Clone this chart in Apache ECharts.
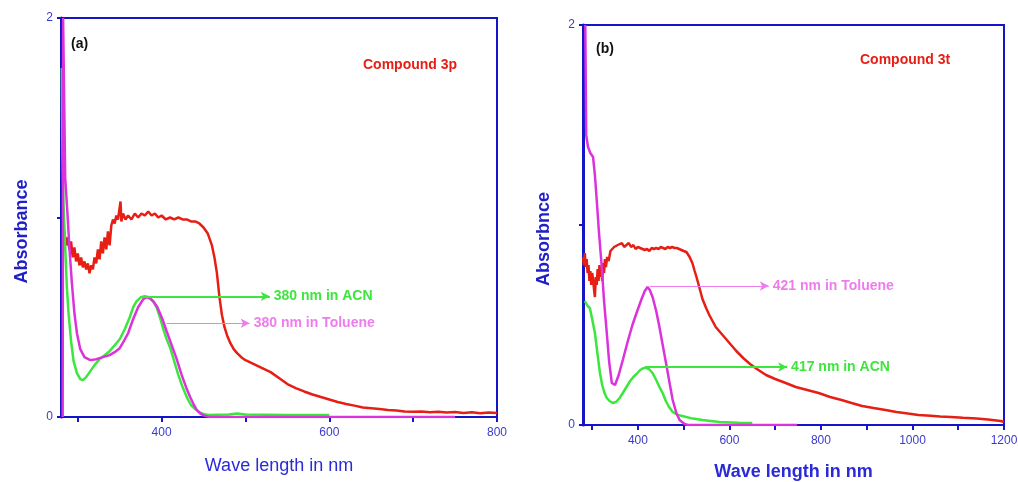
<!DOCTYPE html>
<html><head><meta charset="utf-8">
<script src="https://cdn.jsdelivr.net/npm/echarts@6/dist/echarts.min.js"></script>
<style>html,body{margin:0;padding:0;background:#fff}#c{width:1018px;height:482px}</style>
</head><body><div id="c"></div>
<script>
// ---- Panel (a): Compound 3p ----
const redA = [[282,0.90],[284,0.93],[286,0.86],[288,0.90],[290,0.84],[292,0.88],[294,0.80],[296,0.85],[298,0.78],[300,0.82],[302,0.76],[304,0.80],[306,0.75],[308,0.78],[310,0.74],[312,0.77],[314,0.72],[316,0.76],[318,0.74],[320,0.80],[322,0.77],[324,0.84],[326,0.79],[328,0.88],[330,0.82],[332,0.90],[334,0.84],[336,0.93],[338,0.86],[340,0.96],[342,0.99],[344,0.97],[346,1.01],[348,0.99],[350,1.05],[351,1.08],[352,0.98],[354,1.02],[357,0.99],[360,1.01],[364,0.99],[368,1.02],[372,1.00],[376,1.02],[380,1.01],[384,1.03],[388,1.01],[392,1.02],[396,1.00],[400,1.01],[405,0.99],[410,1.00],[415,0.99],[420,1.00],[425,0.99],[430,0.99],[435,0.98],[440,0.98],[445,0.97],[450,0.95],[455,0.92],[460,0.86],[463,0.80],[466,0.72],[469,0.60],[472,0.51],[475,0.45],[478,0.41],[482,0.37],[486,0.34],[490,0.32],[495,0.30],[500,0.285],[510,0.265],[520,0.245],[530,0.225],[540,0.195],[550,0.165],[560,0.145],[570,0.128],[580,0.113],[590,0.10],[600,0.088],[610,0.075],[620,0.065],[630,0.057],[640,0.048],[650,0.044],[660,0.040],[670,0.035],[680,0.032],[690,0.028],[700,0.026],[710,0.027],[720,0.024],[730,0.026],[740,0.022],[750,0.025],[760,0.020],[770,0.024],[780,0.019],[790,0.022],[800,0.020]];
const greenA = [[281,1.75],[281.5,1.40],[283,1.07],[285,0.85],[287,0.65],[289,0.52],[292,0.38],[295,0.28],[299,0.22],[303,0.19],[306,0.185],[310,0.20],[315,0.23],[320,0.26],[326,0.29],[332,0.31],[338,0.33],[344,0.36],[350,0.39],[356,0.44],[362,0.50],[366,0.55],[370,0.58],[375,0.60],[380,0.605],[385,0.60],[390,0.58],[394,0.55],[398,0.50],[402,0.44],[406,0.39],[410,0.35],[415,0.28],[420,0.21],[425,0.15],[430,0.10],[435,0.06],[440,0.04],[445,0.025],[450,0.015],[455,0.010],[480,0.012],[490,0.018],[500,0.012],[550,0.010],[600,0.010]];
const magentaA = [[282,0.0],[282.5,2.0],[283.5,2.0],[285,1.2],[288,1.0],[290,0.85],[293,0.67],[296,0.52],[299,0.42],[303,0.34],[308,0.30],[315,0.285],[322,0.29],[330,0.30],[338,0.31],[344,0.325],[350,0.345],[355,0.38],[360,0.42],[366,0.49],[372,0.55],[378,0.59],[382,0.60],[386,0.595],[390,0.58],[395,0.55],[401,0.49],[406,0.43],[412,0.36],[418,0.29],[424,0.21],[430,0.14],[434,0.10],[438,0.065],[442,0.035],[446,0.018],[450,0.008],[457,0.0],[750,0.0]];

// ---- Panel (b): Compound 3t ----
const redB = [[280,0.84],[282,0.80],[284,0.86],[286,0.79],[288,0.83],[290,0.76],[292,0.80],[294,0.72],[296,0.77],[298,0.70],[300,0.76],[302,0.73],[304,0.68],[306,0.64],[308,0.74],[310,0.70],[312,0.78],[314,0.72],[316,0.80],[318,0.74],[320,0.79],[322,0.72],[324,0.81],[326,0.76],[328,0.83],[330,0.79],[333,0.84],[336,0.82],[340,0.87],[344,0.86],[348,0.89],[352,0.88],[356,0.90],[360,0.89],[365,0.91],[370,0.89],[375,0.90],[380,0.91],[385,0.89],[390,0.90],[395,0.88],[400,0.89],[405,0.885],[410,0.88],[415,0.875],[420,0.88],[425,0.87],[430,0.885],[435,0.88],[440,0.885],[445,0.88],[450,0.89],[455,0.885],[460,0.88],[465,0.89],[470,0.885],[475,0.89],[480,0.885],[485,0.885],[490,0.88],[495,0.875],[500,0.87],[506,0.865],[513,0.84],[519,0.81],[524,0.77],[528,0.74],[534,0.69],[541,0.63],[550,0.58],[556,0.55],[570,0.49],[585,0.45],[600,0.41],[615,0.37],[630,0.335],[645,0.305],[660,0.28],[680,0.25],[700,0.23],[723,0.21],[745,0.19],[770,0.175],[795,0.16],[820,0.14],[845,0.125],[867,0.11],[890,0.095],[915,0.085],[941,0.075],[965,0.065],[990,0.057],[1013,0.05],[1040,0.046],[1060,0.043],[1084,0.04],[1110,0.036],[1140,0.032],[1165,0.028],[1193,0.02],[1200,0.015]];
const greenB = [[284,0.62],[290,0.595],[295,0.585],[300,0.53],[306,0.46],[312,0.35],[317,0.26],[322,0.20],[327,0.16],[332,0.135],[338,0.12],[345,0.11],[352,0.115],[360,0.135],[367,0.16],[375,0.19],[383,0.22],[390,0.24],[397,0.255],[405,0.275],[411,0.283],[417,0.287],[424,0.28],[432,0.26],[440,0.225],[447,0.19],[454,0.16],[461,0.12],[468,0.09],[476,0.065],[486,0.052],[497,0.045],[520,0.032],[541,0.025],[578,0.015],[620,0.011],[650,0.01]];
const magentaB = [[285,2.0],[287,1.45],[291,1.39],[296,1.36],[302,1.34],[306,1.25],[310,1.125],[315,0.96],[321,0.79],[326,0.62],[332,0.46],[337,0.32],[343,0.21],[350,0.20],[358,0.25],[367,0.325],[378,0.42],[388,0.50],[397,0.56],[408,0.63],[415,0.67],[421,0.69],[426,0.675],[432,0.64],[440,0.57],[447,0.49],[455,0.39],[463,0.29],[470,0.20],[476,0.125],[484,0.06],[491,0.025],[502,0.005],[510,0.0],[748,0.0]];

// tick values
const xTicksA = [300,400,500,600,700,800];
const xLabelsA = [400,600,800];
const xTicksB = [300,400,500,600,700,800,900,1000,1100,1200];
const xLabelsB = [400,600,800,1000,1200];
const yTicks = [0,1,2];
const yLabels = [0,2];

const BLUE = '#1414c8', LBL = '#3a3acc';
const RED = '#e61e14', GREEN = '#3ce63c', MAG = '#dc32dc', MAGL = '#ee7cee';

function xAx(gi, max, ticks, labels, name, bold, gap) {
  return {type:'value', gridIndex:gi, min:280, max:max,
    axisLine:{lineStyle:{color:BLUE, width:2}},
    axisTick:{customValues:ticks, length:5, lineStyle:{color:BLUE, width:2}},
    axisLabel:{customValues:labels, formatter:function(v){return String(v);}, color:LBL, fontSize:12, fontFamily:'Liberation Sans', margin:10},
    splitLine:{show:false},
    name:name, nameLocation:'middle', nameGap:gap,
    nameTextStyle:{color:'#2a2ad8', fontSize:18, fontWeight:bold?'bold':'normal', fontFamily:'Liberation Sans'}};
}
function yAx(gi, name) {
  return {type:'value', gridIndex:gi, min:0, max:2,
    axisLine:{onZero:false, lineStyle:{color:BLUE, width:3}},
    axisTick:{show:true, customValues:yTicks, length:4, lineStyle:{color:BLUE, width:2}},
    axisLabel:{customValues:yLabels, formatter:function(v){return String(v);}, color:LBL, fontSize:12, fontFamily:'Liberation Sans', margin:8},
    splitLine:{show:false},
    name:name, nameLocation:'middle', nameGap:30,
    nameTextStyle:{color:'#2020c8', fontSize:18, fontWeight:'bold', fontFamily:'Liberation Sans', padding:[0,0,0,-28]}};
}
function arrow(from, to, y, txt, col, w) {
  return {silent:true, symbol:['none','arrow'], symbolSize:[7,9],
    lineStyle:{color:col, width:w, type:'solid'},
    label:{show:true, position:'end', distance:4, formatter:txt, color:col, fontSize:14, fontFamily:'Liberation Sans', fontWeight:'bold'},
    data:[[{coord:[from,y]},{coord:[to,y]}]]};
}
function line(gi, data, col, mk) {
  const s = {type:'line', xAxisIndex:gi, yAxisIndex:gi, data:data, showSymbol:false, symbol:'none',
    lineStyle:{color:col, width:2.5}, itemStyle:{color:col}, z:3};
  if (mk) s.markLine = mk;
  return s;
}

const chart = echarts.init(document.getElementById('c'), null, {renderer:'canvas'});
chart.setOption({
  animation:false,
  backgroundColor:'#fff',
  grid:[
    {left:61, top:18, width:436, height:399, show:true, borderColor:BLUE, borderWidth:2, containLabel:false, outerBoundsMode:'none'},
    {left:583, top:25, width:421, height:400, show:true, borderColor:BLUE, borderWidth:2, containLabel:false, outerBoundsMode:'none'}
  ],
  xAxis:[xAx(0,800,xTicksA,xLabelsA,'Wave length in nm',false,40), xAx(1,1200,xTicksB,xLabelsB,'Wave length in nm',true,38)],
  yAxis:[yAx(0,'Absorbance'), yAx(1,'Absorbnce')],
  series:[
    line(0, redA, RED),
    line(0, greenA, GREEN, arrow(378, 529, 0.605, '380 nm in ACN', GREEN, 2)),
    line(0, magentaA, MAG, arrow(406, 505, 0.47, '380 nm in Toluene', MAGL, 1.2)),
    line(1, redB, RED),
    line(1, greenB, GREEN, arrow(415, 726, 0.29, '417 nm in ACN', GREEN, 2)),
    line(1, magentaB, MAG, arrow(426, 686, 0.695, '421 nm in Toluene', MAGL, 1.2))
  ],
  graphic:[
    {type:'text', left:71, top:37, style:{text:'(a)', fill:'#111', font:'bold 14px "Liberation Sans"'}},
    {type:'text', left:363, top:58, style:{text:'Compound 3p', fill:RED, font:'bold 14px "Liberation Sans"'}},
    {type:'text', left:596, top:42, style:{text:'(b)', fill:'#111', font:'bold 14px "Liberation Sans"'}},
    {type:'text', left:860, top:53, style:{text:'Compound 3t', fill:RED, font:'bold 14px "Liberation Sans"'}}
  ]
});
</script></body></html>
